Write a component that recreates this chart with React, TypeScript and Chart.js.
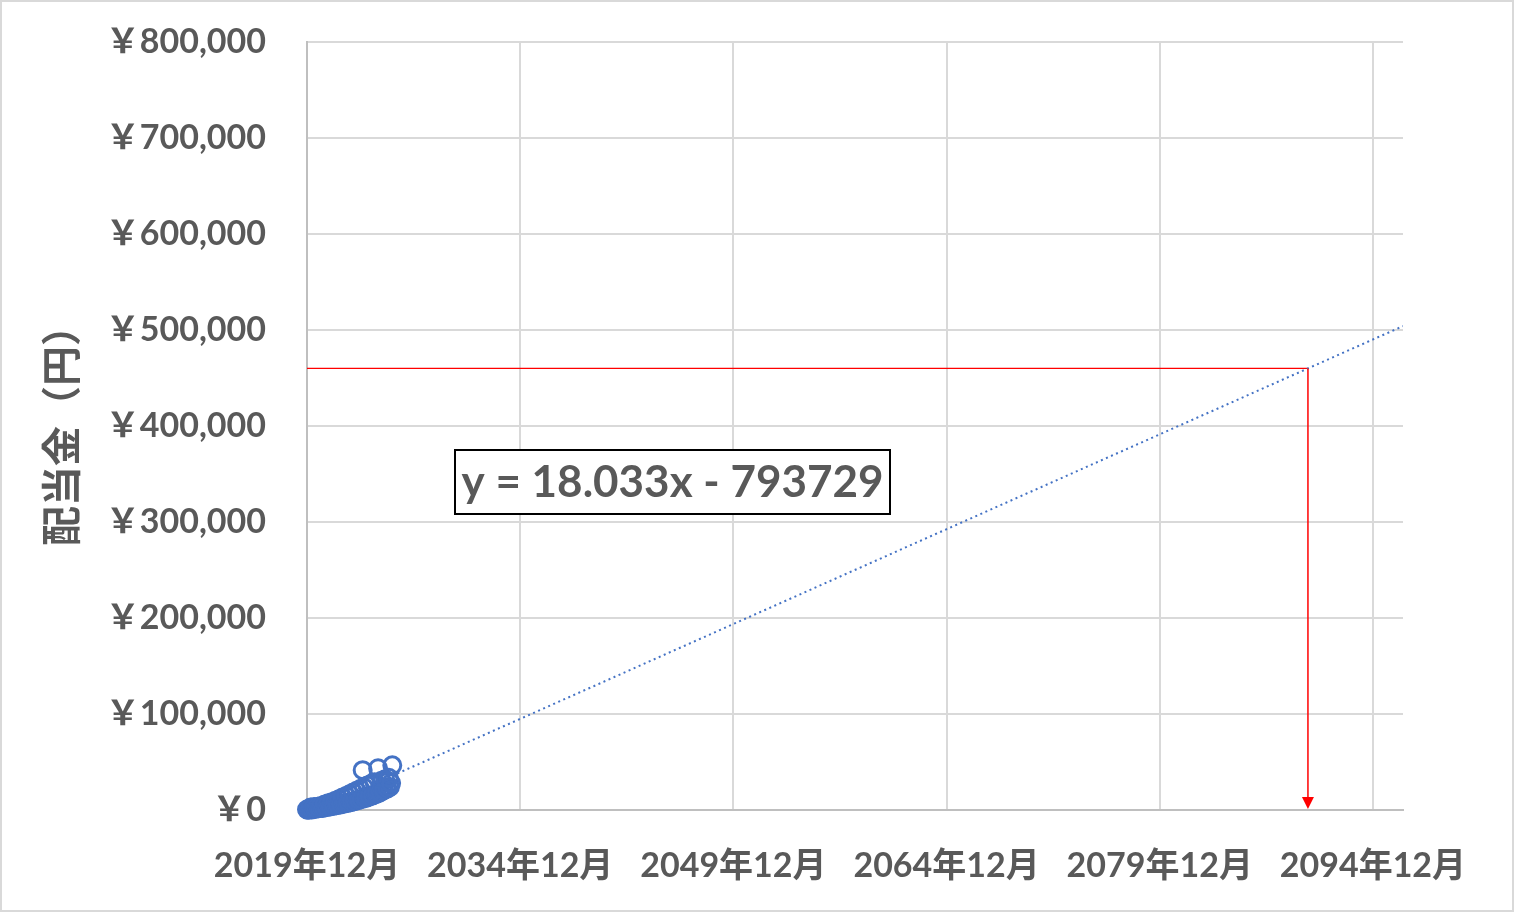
import { useEffect, useRef } from "react";
import { Chart, registerables } from "chart.js";

Chart.register(...registerables);

// ---- data ----
const months: string[] = [
  "2019-12",
  "2020-01", "2020-02", "2020-03", "2020-04", "2020-05", "2020-06", "2020-07", "2020-08", "2020-09", "2020-10", "2020-11", "2020-12",
  "2021-01", "2021-02", "2021-03", "2021-04", "2021-05", "2021-06", "2021-07", "2021-08", "2021-09", "2021-10", "2021-11", "2021-12",
  "2022-01", "2022-02", "2022-03", "2022-04", "2022-05", "2022-06", "2022-07", "2022-08", "2022-09", "2022-10", "2022-11", "2022-12",
  "2023-01", "2023-02", "2023-03", "2023-04", "2023-05", "2023-06", "2023-07", "2023-08", "2023-09", "2023-10", "2023-11", "2023-12",
  "2024-01", "2024-02", "2024-03", "2024-04", "2024-05", "2024-06", "2024-07", "2024-08", "2024-09", "2024-10", "2024-11", "2024-12",
  "2025-01", "2025-02", "2025-03", "2025-04", "2025-05", "2025-06", "2025-07", "2025-08", "2025-09", "2025-10", "2025-11", "2025-12",
];
const dividends: number[] = [
  500,
  200, 900, 2500, 600, 1200, 3000, 1300, 1600, 3400, 1800, 2100, 4200,
  2200, 2700, 5600, 2900, 3300, 7000, 3600, 4000, 8200, 4300, 4700, 9600,
  5000, 5400, 11200, 5800, 6200, 13000, 6600, 7000, 14600, 7400, 7800, 16400,
  8200, 8700, 18200, 9200, 9700, 20000, 10200, 10700, 21800, 11200, 41500, 23600,
  12300, 12900, 25400, 13600, 14300, 27200, 15000, 15700, 29000, 16500, 17300, 43500,
  18000, 19000, 30500, 20000, 21000, 32000, 23000, 22500, 33500, 24000, 28000, 46500,
];
const xTickDates: string[] = ["2019-12-01", "2034-12-01", "2049-12-01", "2064-12-01", "2079-12-01", "2094-12-01"];
const xTickLabels: string[] = ["2019年12月", "2034年12月", "2049年12月", "2064年12月", "2079年12月", "2094年12月"];
const X_AXIS_MIN = 43800;
const X_AXIS_MAX = 71967;
const Y_AXIS_MAX = 800000;
const Y_STEP = 100000;
const TREND_SLOPE = 18.033;
const TREND_INTERCEPT = -793729;
const TARGET = 460000;
const EQUATION_TEXT = "y = 18.033x - 793729";
const Y_TITLE = "配当金（円）";

// ---- helpers ----
const toSerial = (iso: string) => {
  const [y, m, d] = iso.split("-").map(Number);
  return (Date.UTC(y, m - 1, d || 1) - Date.UTC(1899, 11, 30)) / 86400000;
};
const trend = (x: number) => TREND_SLOPE * x + TREND_INTERCEPT;

const FONT = "Lato, 'Noto Sans CJK JP', sans-serif";
const TEXT = "#595959";
const BLUE = "#4472C4";

export default function App() {
  const ref = useRef<HTMLCanvasElement | null>(null);

  useEffect(() => {
    if (!ref.current) return;
    const points = months.map((m, i) => ({ x: toSerial(m + "-01"), y: dividends[i] }));
    const xFirst = points[0].x;
    const xCross = (TARGET - TREND_INTERCEPT) / TREND_SLOPE;
    const tickVals = xTickDates.map(toSerial);

    const framePlugin = {
      id: "frame",
      beforeDraw(chart: any) {
        const { ctx, width, height } = chart;
        ctx.save();
        ctx.fillStyle = "#ffffff";
        ctx.fillRect(0, 0, width, height);
        ctx.restore();
      },
      afterDraw(chart: any) {
        const { ctx, width, height } = chart;
        ctx.save();
        ctx.strokeStyle = "#d9d9d9";
        ctx.lineWidth = 2;
        ctx.strokeRect(1, 1, width - 2, height - 2);
        // equation label box
        const bx = 455, by = 450, bw = 435, bh = 64;
        ctx.fillStyle = "#ffffff";
        ctx.fillRect(bx, by, bw, bh);
        ctx.strokeStyle = "#000000";
        ctx.lineWidth = 2;
        ctx.strokeRect(bx, by, bw, bh);
        ctx.fillStyle = TEXT;
        ctx.font = `bold 44px ${FONT}`;
        ctx.textAlign = "center";
        ctx.textBaseline = "middle";
        ctx.fillText(EQUATION_TEXT, bx + bw / 2, by + bh / 2 + 1);
        ctx.restore();
      },
    };

    const arrowPlugin = {
      id: "arrow",
      afterDatasetsDraw(chart: any) {
        const { ctx, scales } = chart;
        const px = scales.x.getPixelForValue(xCross);
        const y0 = scales.y.getPixelForValue(TARGET);
        const y1 = scales.y.getPixelForValue(0);
        ctx.save();
        ctx.strokeStyle = "#ff0000";
        ctx.fillStyle = "#ff0000";
        ctx.lineWidth = 1.5;
        ctx.beginPath();
        ctx.moveTo(px, y0);
        ctx.lineTo(px, y1 - 12);
        ctx.stroke();
        ctx.beginPath();
        ctx.moveTo(px, y1 - 1);
        ctx.lineTo(px - 6, y1 - 13);
        ctx.lineTo(px + 6, y1 - 13);
        ctx.closePath();
        ctx.fill();
        ctx.restore();
      },
    };

    const chart = new Chart(ref.current, {
      type: "scatter",
      data: {
        datasets: [
          {
            label: "配当金",
            data: points,
            pointRadius: 8.5,
            pointBorderWidth: 3,
            pointBorderColor: BLUE,
            pointBackgroundColor: "rgba(0,0,0,0)",
            showLine: false,
            clip: false,
          },
          {
            label: "線形近似",
            data: [
              { x: xFirst, y: trend(xFirst) },
              { x: X_AXIS_MAX, y: trend(X_AXIS_MAX) },
            ],
            showLine: true,
            borderColor: BLUE,
            borderWidth: 2,
            borderDash: [2, 3.5],
            borderCapStyle: "butt",
            pointRadius: 0,
          },
          {
            label: "目標",
            data: [
              { x: X_AXIS_MIN, y: TARGET },
              { x: xCross, y: TARGET },
            ],
            showLine: true,
            borderColor: "#ff0000",
            borderWidth: 1.2,
            pointRadius: 0,
          },
        ],
      },
      options: {
        responsive: false,
        animation: false,
        devicePixelRatio: 1,
        layout: { padding: { left: 0, top: 42, right: 111, bottom: 0 } },
        plugins: { legend: { display: false }, tooltip: { enabled: false } },
        scales: {
          x: {
            type: "linear",
            min: X_AXIS_MIN,
            max: X_AXIS_MAX,
            afterBuildTicks: (s: any) => {
              s.ticks = tickVals.map((v) => ({ value: v }));
            },
            afterFit: (s: any) => {
              s.height = 102;
            },
            ticks: {
              autoSkip: false,
              maxRotation: 0,
              padding: 36,
              color: TEXT,
              font: { family: FONT, size: 34, weight: "bold" },
              callback: (_v: any, i: number) => xTickLabels[i],
            },
            grid: { color: "#d9d9d9", lineWidth: 2, drawTicks: false },
            border: { color: "#bfbfbf", width: 2 },
          },
          y: {
            min: 0,
            max: Y_AXIS_MAX,
            afterFit: (s: any) => {
              s.width = 307;
              s.paddingTop = 0;
              s.paddingBottom = 0;
            },
            ticks: {
              stepSize: Y_STEP,
              padding: 41,
              color: TEXT,
              font: { family: FONT, size: 34, weight: "bold" },
              callback: (v: any) => "￥" + Number(v).toLocaleString("en-US"),
            },
            title: {
              display: true,
              text: Y_TITLE,
              color: TEXT,
              font: { family: FONT, size: 40, weight: "bold" },
              padding: { top: 39, bottom: 0 },
            },
            grid: { color: "#d9d9d9", lineWidth: 2, drawTicks: false },
            border: { color: "#bfbfbf", width: 2 },
          },
        },
      },
      plugins: [framePlugin, arrowPlugin],
    } as any);

    return () => chart.destroy();
  }, []);

  return (
    <div style={{ position: "absolute", left: 0, top: 0, width: 1514, height: 912 }}>
      <canvas ref={ref} width={1514} height={912} style={{ display: "block" }} />
    </div>
  );
}
